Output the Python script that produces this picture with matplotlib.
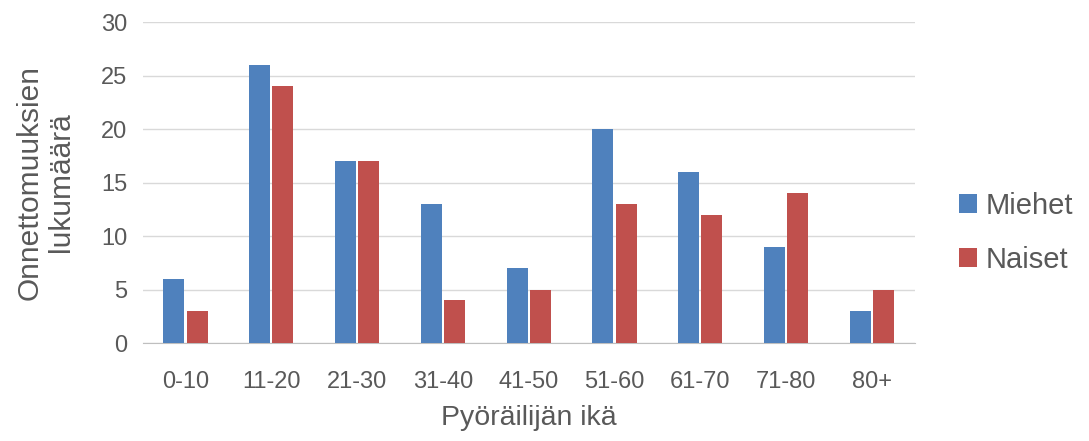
import numpy as np
import matplotlib.pyplot as plt
from matplotlib import rcParams as rcp

rcp['font.family'] = ['Liberation Sans', 'DejaVu Sans']

ages = ["0-10", "11-20", "21-30", "31-40", "41-50", "51-60", "61-70", "71-80", "80+"]
miehet = [6, 26, 17, 13, 7, 20, 16, 9, 3]
naiset = [3, 24, 17, 4, 5, 13, 12, 14, 5]

txt = "#595959"
x = np.arange(len(ages))
w = 0.245

fig = plt.figure(figsize=(10.89, 4.41), dpi=100)
ax = fig.add_axes([0.131, 0.222, 0.709, 0.728])

ax.bar(x - 0.135, miehet, w, color="#4F81BD", label="Miehet", zorder=3)
ax.bar(x + 0.135, naiset, w, color="#C0504D", label="Naiset", zorder=3)

ax.set_xlim(-0.5, len(ages) - 0.5)
ax.set_ylim(0, 30)
ax.set_yticks(range(0, 31, 5))
ax.set_xticks(x)
ax.set_xticklabels(ages)
ax.grid(axis="y", color="#D9D9D9", linewidth=1, zorder=0)
for s in ["top", "right", "left"]:
    ax.spines[s].set_visible(False)
ax.spines["bottom"].set_color("#BFBFBF")
ax.tick_params(length=0, labelsize=17, colors=txt)
ax.tick_params(axis="y", pad=11)
ax.tick_params(axis="x", pad=20)

ax.set_xlabel("Pyöräilijän ikä", fontsize=20.5, color=txt, labelpad=9)
ax.set_ylabel("Onnettomuuksien\nlukumäärä", fontsize=21.5, color=txt, labelpad=19,
              linespacing=1.15)

ax.legend(loc="center left", bbox_to_anchor=(959 / 1089, 1 - 233 / 441),
          bbox_transform=fig.transFigure, frameon=False, borderpad=0,
          borderaxespad=0, fontsize=21, labelcolor=txt, handlelength=0.62,
          handleheight=0.62, labelspacing=0.9, handletextpad=0.3)

fig.savefig("out.png", dpi=100)
